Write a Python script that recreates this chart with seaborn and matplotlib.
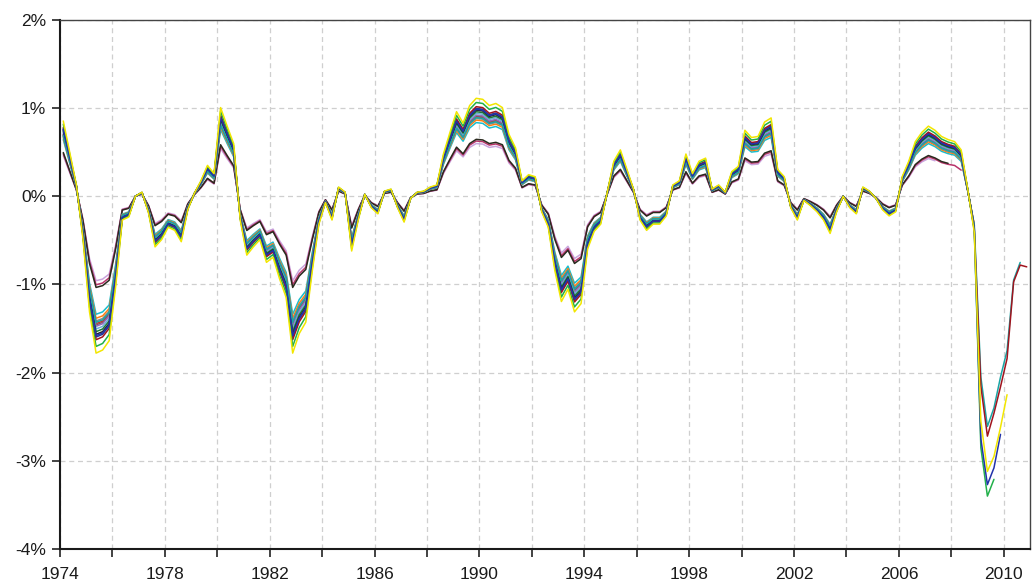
import numpy as np
import pandas as pd
import matplotlib
matplotlib.use("Agg")
import matplotlib.pyplot as plt
import seaborn as sns
from matplotlib.ticker import FixedLocator, FuncFormatter

# Central output-gap path (% of potential), quarterly, 1974Q1 .. 2008Q4
gap_path = [
    0.73, 0.42, 0.11, -0.41, -1.12, -1.52, -1.49, -1.40, -0.87, -0.23,   # 1974-76
    -0.20, 0.00, 0.04, -0.16, -0.49, -0.42, -0.30, -0.33, -0.44, -0.13,  # 1976-78
    0.03, 0.15, 0.30, 0.22, 0.86, 0.68, 0.51, -0.23, -0.57, -0.49,       # 1979-81
    -0.42, -0.64, -0.59, -0.80, -0.98, -1.52, -1.33, -1.22, -0.72, -0.27,  # 1981-83
    -0.06, -0.23, 0.09, 0.04, -0.53, -0.23, 0.02, -0.11, -0.17, 0.05,    # 1984-86
    0.07, -0.11, -0.25, -0.02, 0.04, 0.05, 0.09, 0.11, 0.41, 0.62,       # 1986-88
    0.82, 0.71, 0.88, 0.95, 0.94, 0.88, 0.90, 0.86, 0.60, 0.47,          # 1989-91
    0.15, 0.21, 0.19, -0.15, -0.30, -0.72, -1.02, -0.90, -1.12, -1.04,   # 1991-93
    -0.51, -0.34, -0.27, 0.04, 0.34, 0.45, 0.26, 0.07, -0.23, -0.33,     # 1994-96
    -0.27, -0.27, -0.19, 0.11, 0.15, 0.41, 0.22, 0.34, 0.37, 0.07,       # 1996-98
    0.11, 0.04, 0.24, 0.29, 0.64, 0.57, 0.58, 0.72, 0.76, 0.26,          # 1999-01
    0.19, -0.11, -0.23, -0.04, -0.09, -0.15, -0.23, -0.36, -0.15, 0.00,  # 2001-03
    -0.11, -0.17, 0.09, 0.05, -0.02, -0.13, -0.19, -0.15, 0.19, 0.34,    # 2004-06
    0.53, 0.62, 0.68, 0.64, 0.58, 0.55, 0.53, 0.45, 0.07, -0.35,         # 2006-08
]

# Estimate vintages: amplitude relative to the central path and last quarter
vintage_labels = [
    "V01", "V02", "V03",
    "V04", "V05", "V06", "V07", "V08", "V09", "V10", "V11", "V12", "V13",
    "V14", "V15", "V16", "V17", "V18",
]
vintage_amplitude = [
    0.63, 0.68, 0.66,
    0.88, 0.91, 0.93, 0.95, 0.96, 0.97, 0.99, 1.01, 1.03, 1.05,
    1.12, 1.04, 1.17, 0.94, 1.07,
]
vintage_last_q = [
    133, 135, 137,
    138, 139, 138, 139, 139, 139, 139, 139, 139, 139,
    142, 143, 144, 146, 147,
]

# Later vintages carry their own estimates through the 2009 recession (from 2009Q1)
late_tail = {
    "V14": [-2.85, -3.40, -3.21],
    "V15": [-2.75, -3.27, -3.08, -2.70],
    "V16": [-2.55, -3.12, -2.95, -2.62, -2.25],
    "V17": [-2.05, -2.61, -2.40, -2.05, -1.75, -0.95, -0.75],
    "V18": [-2.15, -2.72, -2.46, -2.16, -1.84, -0.97, -0.78, -0.80],
}

line_colors = [
    "#c9a3dc", "#2a2a1e", "#b8336a",
    "#17becf", "#ff7f0e", "#8a8a8a", "#d62728", "#8c564b", "#9467bd",
    "#6baed6", "#1a7a3a", "#222222", "#1f3a93",
    "#22b04a", "#2233aa", "#f2e600", "#1aa5a5", "#a0141e",
]

start_year = 1974

rows = []
for lab, amp, last in zip(vintage_labels, vintage_amplitude, vintage_last_q):
    values = [amp * v for v in gap_path[: min(last, len(gap_path) - 1) + 1]]
    values += late_tail.get(lab, [])
    for q, v in enumerate(values):
        rows.append({"year": start_year + q / 4 + 0.125, "gap": v, "vintage": lab})
df = pd.DataFrame(rows)

sns.set_theme(style="ticks")
plt.rcParams["font.family"] = ["Liberation Sans", "DejaVu Sans"]

fig = plt.figure(figsize=(10.33, 5.82), dpi=100)
ax = fig.add_axes([0.0581, 0.0567, 0.9390, 0.9090])

palette = dict(zip(vintage_labels, line_colors))
draw_order = ["V01", "V03", "V02", "V04", "V05", "V06", "V07", "V08", "V09",
              "V10", "V11", "V12", "V13", "V17", "V18", "V14", "V15", "V16"]
sns.lineplot(data=df, x="year", y="gap", hue="vintage", hue_order=draw_order,
             palette=palette, estimator=None, sort=False, linewidth=1.1,
             legend=False, ax=ax)

ax.set_xlim(1974, 2011)
ax.set_ylim(-4, 2)
ax.xaxis.set_major_locator(FixedLocator(list(range(1974, 2011, 4))))
ax.xaxis.set_minor_locator(FixedLocator(list(range(1976, 2011, 4))))
ax.yaxis.set_major_locator(FixedLocator(list(range(-4, 3))))
ax.yaxis.set_major_formatter(FuncFormatter(lambda v, p: f"{int(round(v))}%"))
ax.xaxis.set_major_formatter(FuncFormatter(lambda v, p: f"{int(round(v))}"))

grid_kw = dict(color="#cfcfcf", linestyle=(0, (4, 3)), linewidth=0.9)
ax.grid(True, which="both", axis="x", **grid_kw)
ax.grid(True, which="major", axis="y", **grid_kw)
ax.set_axisbelow(True)

ax.tick_params(axis="both", which="both", direction="out", length=6,
               width=1.2, color="#222222", labelsize=12.5, labelcolor="#1a1a1a")
ax.tick_params(axis="x", pad=7)
ax.tick_params(axis="y", pad=4)

for side in ["left", "bottom"]:
    ax.spines[side].set_color("#1a1a1a")
    ax.spines[side].set_linewidth(1.5)
for side in ["top", "right"]:
    ax.spines[side].set_visible(True)
    ax.spines[side].set_color("#444444")
    ax.spines[side].set_linewidth(1.0)

ax.set_xlabel("")
ax.set_ylabel("")

fig.savefig("out.png", dpi=100)
